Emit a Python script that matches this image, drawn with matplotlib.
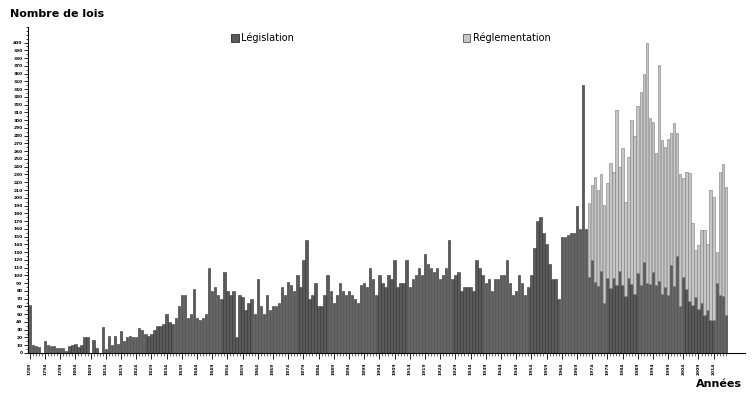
import matplotlib
matplotlib.use("Agg")
import matplotlib.pyplot as plt
from matplotlib.patches import Patch
import numpy as np

start_year = 1789

# Legislation (dark) values, one per year
legislation = [
    62, 10, 9, 8, 0, 15, 10, 9, 9, 7, 7, 6, 3, 9, 10, 12, 8, 10, 20,
    21, 0, 17, 7, 0,
    33, 5, 22, 10, 22, 12, 28, 15, 20, 22, 20, 20, 32, 30, 25, 22, 25, 30, 35, 35,
    38, 50, 40, 38, 45, 60, 75, 75, 45, 50, 82, 45, 42, 45, 50, 110, 80, 85, 75, 70,
    105, 80, 75, 80, 20, 75, 72, 55, 65, 70, 50, 95, 60, 50, 75, 55, 60, 60, 65, 85,
    75, 92, 88, 80, 100, 85, 120, 145, 70, 75, 90, 60, 60, 75, 100, 80, 65, 75, 90, 80,
    75, 80, 75, 70, 65, 88, 90, 85, 110, 95, 75, 100, 90, 85, 100, 95, 120, 85, 90, 90,
    120, 85, 95, 100, 110, 100, 128, 115, 110, 105, 110, 95, 100, 110, 145, 95, 100, 105, 80, 85,
    85, 85, 80, 120, 110, 100, 90, 95, 80, 95, 95, 100, 100, 120, 90, 75, 80, 100, 90, 75,
    85, 100, 135, 170, 175, 155, 140, 115, 95, 95, 70, 150, 150, 152, 155, 155, 190, 160, 345,
    160,
    98, 120, 92, 86, 106, 65, 96, 84, 96, 87, 106, 87, 73, 96, 89, 76, 103, 87, 117, 90,
    89, 105, 87, 93, 76, 85, 75, 113, 86, 125, 60, 98, 82, 67, 62, 72, 57, 64, 49, 56,
    43, 43, 90, 75, 73, 49,
]

# Total (legislation + regulation) for the years where regulation is counted
totals_recent = [
    193, 217, 227, 210, 231, 191, 219, 245, 233, 313, 240, 264, 195, 253, 300, 279, 318, 336, 359, 400,
    303, 298, 258, 371, 274, 266, 276, 283, 296, 283, 231, 225, 233, 232, 167, 133, 139, 159, 158, 141,
    210, 201, 130, 233, 243, 214,
]

n = len(legislation)
years = list(range(start_year, start_year + n))
reglementation = [0] * (n - len(totals_recent)) + [
    t - l for t, l in zip(totals_recent, legislation[n - len(totals_recent):])
]

fig = plt.figure(figsize=(7.54, 3.94), dpi=100)
ax = fig.add_axes([28 / 754, 41 / 394, 717 / 754, 326 / 394])

x = np.arange(n)
ax.bar(x, legislation, width=0.8, color="#5a5a5a", edgecolor="#2e2e2e", linewidth=0.4)
ax.bar(x, reglementation, bottom=legislation, width=0.8, color="#c6c6c6",
       edgecolor="#7a7a7a", linewidth=0.4)

ax.set_xlim(-0.6, 235.3)
ax.set_ylim(0, 420)

for s in ["top", "right"]:
    ax.spines[s].set_visible(False)
ax.spines["left"].set_linewidth(0.8)
ax.spines["bottom"].set_linewidth(0.8)

ax.set_yticks(np.arange(0, 401, 10))
ax.set_yticks(np.arange(0, 421, 5), minor=True)
ax.set_yticklabels([str(v) for v in range(0, 401, 10)], fontsize=3.2, fontweight="bold")
ax.tick_params(axis="y", which="major", length=3, width=0.6, pad=1)
ax.tick_params(axis="y", which="minor", length=1.5, width=0.5)

major_idx = list(range(0, n, 5))
ax.set_xticks(major_idx)
ax.set_xticks(x, minor=True)
ax.set_xticklabels([str(years[i]) for i in major_idx], rotation=90, fontsize=3.2,
                   fontweight="bold")
ax.tick_params(axis="x", which="major", length=4, width=0.6, pad=3)
ax.tick_params(axis="x", which="minor", length=2, width=0.4)

fig.text(10 / 754, 1 - 14 / 394, "Nombre de lois", fontsize=8, fontweight="bold",
         ha="left", va="center")
fig.text(742 / 754, 1 - 384 / 394, "Années", fontsize=8, fontweight="bold",
         ha="right", va="center")

handles = [Patch(facecolor="#5a5a5a", edgecolor="#2e2e2e", linewidth=0.6),
           Patch(facecolor="#c6c6c6", edgecolor="#555555", linewidth=0.6)]
fig.legend(handles, ["Législation", "Réglementation"], ncol=2, frameon=False,
           loc="center left", bbox_to_anchor=(222 / 754, 1 - 38 / 394),
           fontsize=7, handlelength=0.8, handleheight=0.8, handletextpad=0.3,
           columnspacing=17.3)

fig.savefig("out.png", dpi=100)
